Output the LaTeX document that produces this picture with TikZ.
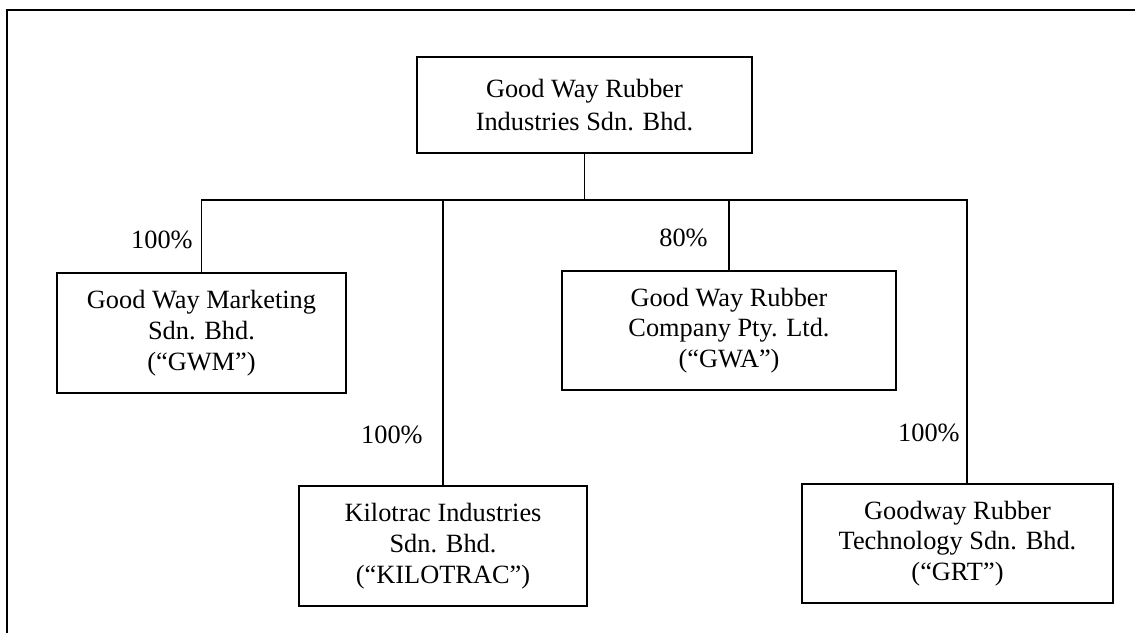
\documentclass[tikz,border=0pt]{standalone}
\usepackage{fontspec}
\setmainfont{Liberation Serif}
\usepackage{tikz}
\usetikzlibrary{positioning,calc}

\begin{document}
\begin{tikzpicture}[
  x=0.02cm,y=-0.02cm,
  co/.style={draw,line width=1.1pt,align=center,inner sep=0pt,font=\fontsize{15}{17.5}\selectfont},
  ln/.style={line width=1.1pt},
  pc/.style={font=\fontsize{15}{18}\selectfont,anchor=east,inner sep=0pt}
]
\useasboundingbox (0,0) rectangle (1135,633);
%--- frame ---
\draw[ln] (7,633) -- (7,10) -- (1135,10);
%--- holding company ---
\node[co,minimum width=6.7cm,minimum height=1.92cm,font=\fontsize{15}{19}\selectfont] (gwr) at (584.5,105)
  {Good Way Rubber\\Industries Sdn. Bhd.};
\coordinate (bus) at (gwr.south |- 0,200);
%--- subsidiaries ---
\node[co,minimum width=5.78cm,minimum height=2.4cm] (gwm) at (201.5,333)
  {Good Way Marketing\\Sdn. Bhd.\\(“GWM”)};
\node[co,minimum width=5.76cm,minimum height=2.4cm] (kil) at (443,546)
  {Kilotrac Industries\\Sdn. Bhd.\\(“KILOTRAC”)};
\node[co,minimum width=6.68cm,minimum height=2.38cm] (gwa) at (729,330.5)
  {Good Way Rubber\\Company Pty. Ltd.\\(“GWA”)};
\node[co,minimum width=6.22cm,minimum height=2.38cm] (grt) at (957.5,543.5)
  {Goodway Rubber\\Technology Sdn. Bhd.\\(“GRT”)};
%--- links ---
\draw[ln] (gwr.south) -- (bus);
\draw[ln] (gwm.north) |- (bus);
\draw[ln] (kil.north) -- (kil.north |- bus);
\draw[ln] (gwa.north) -- (gwa.north |- bus);
\draw[ln] ([xshift=0.19cm]grt.north) |- (bus);
%--- shares ---
\node[pc] (sgwm) at (193,240) {100\%};
\node[pc] (skil) at (423,435) {100\%};
\node[pc] (sgwa) at (708,238) {80\%};
\node[pc] (sgrt) at (960,433) {100\%};
\end{tikzpicture}
\end{document}
